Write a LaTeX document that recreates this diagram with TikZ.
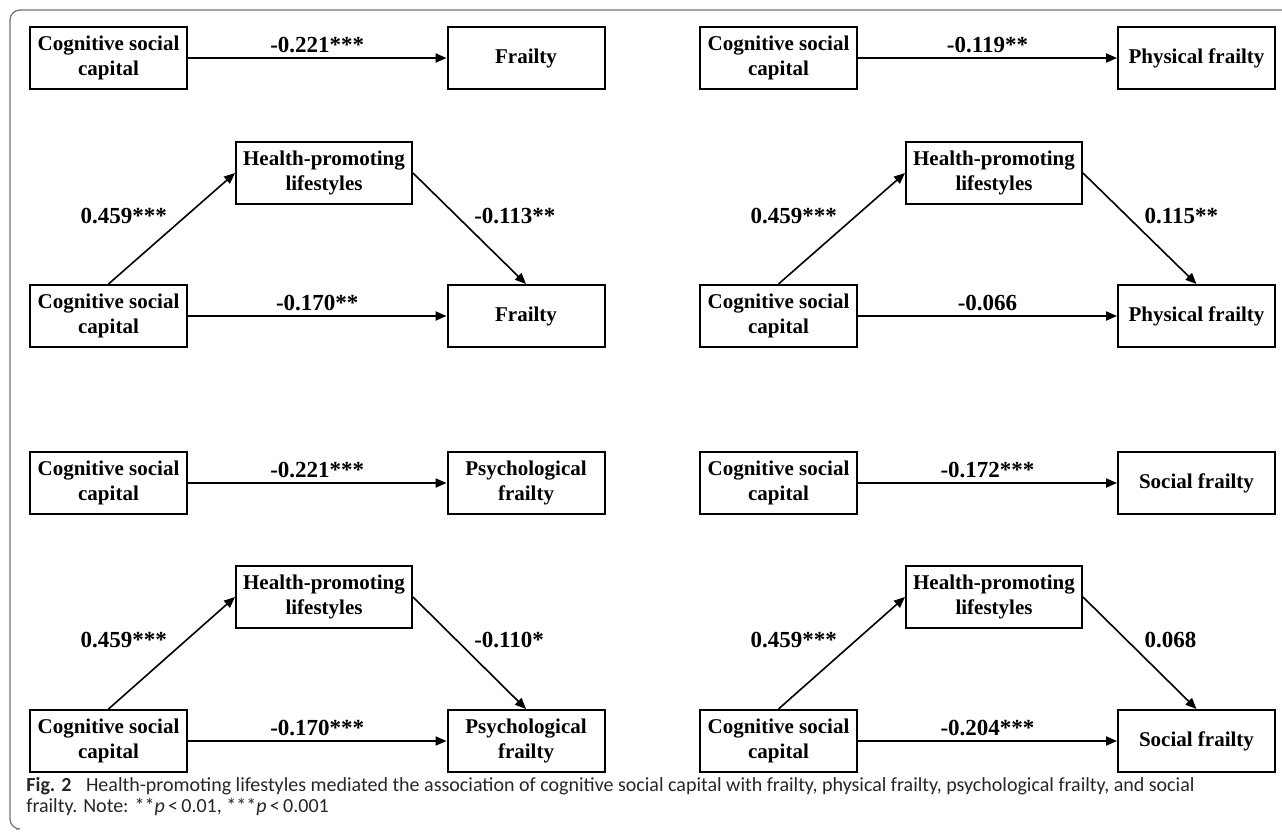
\documentclass[tikz,border=0pt]{standalone}
\usepackage{fontspec}
\setmainfont{Liberation Serif}
\newfontfamily\capfont{Carlito}
\usetikzlibrary{arrows.meta}

\begin{document}
\begin{tikzpicture}[x=0.5pt,y=-0.5pt,
    box/.style={draw,line width=1pt,minimum width=78.5pt,minimum height=31pt,inner sep=1pt,
      align=center,font=\bfseries\fontsize{10.5}{12.5}\selectfont},
    medbox/.style={box,minimum width=88pt},
    arr/.style={-{Triangle[length=5.5pt,width=4.6pt]},line width=0.8pt},
    coef/.style={font=\bfseries\fontsize{11.5}{13}\selectfont,inner sep=2pt}]
      \useasboundingbox (0,0) rectangle (1282,832);
      \draw[black!55,line width=0.6pt,rounded corners=5pt] (1282,10) -- (10,10) -- (10,829) -- (16,829);

      % frailty
      \node[box] (csc1) at (108.5,58) {Cognitive social\\capital};
      \node[box] (fr1) at (526,58) {Frailty};
      \draw[arr] (csc1) -- node[coef,above] {-0.221***} (fr1);
      \node[medbox] (hpl2) at (324,173) {Health-promoting\\lifestyles};
      \node[box] (csc2) at (108.5,316) {Cognitive social\\capital};
      \node[box] (fr2) at (526,316) {Frailty};
      \draw[arr] (csc2.north) -- node[coef,anchor=south east] {0.459***} (hpl2.west);
      \draw[arr] (hpl2.east) -- node[coef,anchor=south west] {-0.113**} (fr2.north);
      \draw[arr] (csc2) -- node[coef,above] {-0.170**} (fr2);

      % physical frailty
      \node[box] (csc3) at (778.5,58) {Cognitive social\\capital};
      \node[box] (phy1) at (1196.5,58) {Physical frailty};
      \draw[arr] (csc3) -- node[coef,above] {-0.119**} (phy1);
      \node[medbox] (hpl4) at (994,173) {Health-promoting\\lifestyles};
      \node[box] (csc4) at (778.5,316) {Cognitive social\\capital};
      \node[box] (phy2) at (1196.5,316) {Physical frailty};
      \draw[arr] (csc4.north) -- node[coef,anchor=south east] {0.459***} (hpl4.west);
      \draw[arr] (hpl4.east) -- node[coef,anchor=south west] {0.115**} (phy2.north);
      \draw[arr] (csc4) -- node[coef,above] {-0.066} (phy2);

      % psychological frailty
      \node[box] (csc5) at (108.5,483) {Cognitive social\\capital};
      \node[box] (psy1) at (526,483) {Psychological\\frailty};
      \draw[arr] (csc5) -- node[coef,above] {-0.221***} (psy1);
      \node[medbox] (hpl6) at (324,597) {Health-promoting\\lifestyles};
      \node[box] (csc6) at (108.5,741) {Cognitive social\\capital};
      \node[box] (psy2) at (526,741) {Psychological\\frailty};
      \draw[arr] (csc6.north) -- node[coef,anchor=south east] {0.459***} (hpl6.west);
      \draw[arr] (hpl6.east) -- node[coef,anchor=south west] {-0.110*} (psy2.north);
      \draw[arr] (csc6) -- node[coef,above] {-0.170***} (psy2);

      % social frailty
      \node[box] (csc7) at (778.5,483) {Cognitive social\\capital};
      \node[box] (soc1) at (1196.5,483) {Social frailty};
      \draw[arr] (csc7) -- node[coef,above] {-0.172***} (soc1);
      \node[medbox] (hpl8) at (994,597) {Health-promoting\\lifestyles};
      \node[box] (csc8) at (778.5,741) {Cognitive social\\capital};
      \node[box] (soc2) at (1196.5,741) {Social frailty};
      \draw[arr] (csc8.north) -- node[coef,anchor=south east] {0.459***} (hpl8.west);
      \draw[arr] (hpl8.east) -- node[coef,anchor=south west] {0.068} (soc2.north);
      \draw[arr] (csc8) -- node[coef,above] {-0.204***} (soc2);

      \node[anchor=north west,inner sep=0pt,align=left,text=black!85,
        font=\capfont\fontsize{10}{10.5}\selectfont] (cap) at (26,777)
        {\textbf{Fig. 2}\hspace{5pt} Health-promoting lifestyles mediated the association of cognitive social capital with frailty, physical frailty, psychological frailty, and social\\
         frailty. Note: **\textit{p}\,<\,0.01, ***\textit{p}\,<\,0.001};
\end{tikzpicture}
\end{document}
